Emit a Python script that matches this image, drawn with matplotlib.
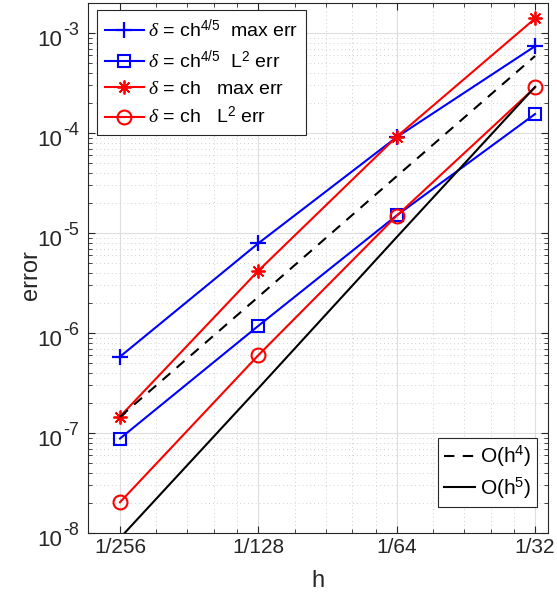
import numpy as np
import matplotlib.pyplot as plt
from matplotlib.ticker import FixedLocator, NullFormatter, LogLocator

plt.rcParams['font.family'] = ['Liberation Sans', 'DejaVu Sans']
plt.rcParams['mathtext.fontset'] = 'custom'
plt.rcParams['mathtext.rm'] = 'Liberation Sans'
plt.rcParams['mathtext.it'] = 'Liberation Serif:italic'

# mesh sizes
h = [1/256, 1/128, 1/64, 1/32]
h_labels = ['1/256', '1/128', '1/64', '1/32']

# errors
max_err_45 = [5.8e-7, 7.9e-6, 9.1e-5, 7.4e-4]
l2_err_45 = [8.8e-8, 1.18e-6, 1.5e-5, 1.55e-4]
max_err_1 = [1.46e-7, 4.2e-6, 9.2e-5, 1.4e-3]
l2_err_1 = [2.03e-8, 6.0e-7, 1.49e-5, 2.86e-4]

# reference slopes
ref_h4 = [1.45e-7, 2.3e-6, 3.7e-5, 5.9e-4]
ref_h5 = [8.9e-9, 2.8e-7, 9.1e-6, 2.9e-4]

# y decades for tick labels
y_exp = [-8, -7, -6, -5, -4, -3]

txt = '#262626'

fig = plt.figure(figsize=(5.57, 5.98), dpi=100)
ax = fig.add_axes([0.158, 0.1087, 0.826, 0.8863])

l1, = ax.loglog(h, max_err_45, '-+', color='b', lw=1.5, ms=11, mew=1.6)
l2, = ax.loglog(h, l2_err_45, '-s', color='b', lw=1.5, ms=8, mew=1.5, mfc='none')
l3, = ax.loglog(h, max_err_1, '-', marker=(8, 2, 0), color='r', lw=1.5, ms=10, mew=1.3)
l4, = ax.loglog(h, l2_err_1, '-o', color='r', lw=1.5, ms=10, mew=1.5, mfc='none')
r4, = ax.loglog(h, ref_h4, '--', color='k', lw=1.5, dashes=(5, 4))
r5, = ax.loglog(h, ref_h5, '-', color='k', lw=1.5)

ax.set_xlim(2**-8.231, 2**-4.906)
ax.set_ylim(1e-8, 2e-3)

ax.xaxis.set_major_locator(FixedLocator(h))
ax.set_xticklabels(h_labels)
minor_x = [m * x for x in h[:-1] for m in (1.2, 1.4, 1.6, 1.8)]
ax.xaxis.set_minor_locator(FixedLocator(minor_x))
ax.xaxis.set_minor_formatter(NullFormatter())
ax.yaxis.set_major_locator(FixedLocator([10.0**e for e in y_exp]))
ax.yaxis.set_minor_locator(LogLocator(base=10, subs=np.arange(2, 10), numticks=20))
ax.yaxis.set_minor_formatter(NullFormatter())
ax.set_yticklabels([])

# MATLAB-style 10^n labels with a large exponent
for e in y_exp:
    ax.annotate('10', xy=(0, 10.0**e), xycoords=('axes fraction', 'data'),
                xytext=(-18.7, -9.4), textcoords='offset points',
                ha='right', va='baseline', fontsize=16, color=txt,
                annotation_clip=False)
    ax.annotate('-%d' % -e, xy=(0, 10.0**e), xycoords=('axes fraction', 'data'),
                xytext=(-18.0, -1.4), textcoords='offset points',
                ha='left', va='baseline', fontsize=13, color=txt,
                annotation_clip=False)

ax.tick_params(which='both', direction='in', top=True, right=True, labelsize=15,
               color=txt, labelcolor=txt)
ax.tick_params(which='major', length=5, width=0.8)
ax.tick_params(which='minor', length=3, width=0.6)
ax.grid(True, which='major', color='#dedede', lw=0.8)
ax.grid(True, which='minor', color='#d0d0d0', lw=0.7, linestyle=(0, (1, 3)))
for s in ax.spines.values():
    s.set_color(txt)
    s.set_linewidth(0.8)

ax.set_xlabel('h', fontsize=17, color=txt)
ax.set_ylabel('error', fontsize=17, color=txt)
ax.xaxis.set_label_coords(0.5, -0.07)
ax.yaxis.set_label_coords(-0.1, 0.487)

leg1 = ax.legend([l1, l2, l3, l4],
                 [r'$\delta$ = ch$^{\mathrm{4/5}}$  max err',
                  r'$\delta$ = ch$^{\mathrm{4/5}}$  L$^{\mathrm{2}}$ err',
                  r'$\delta$ = ch   max err',
                  r'$\delta$ = ch   L$^{\mathrm{2}}$ err'],
                 loc='upper left', bbox_to_anchor=(0.0196, 0.987), borderaxespad=0,
                 fontsize=14, fancybox=False, framealpha=1,
                 edgecolor=txt, handlelength=2.0, handletextpad=0.2,
                 borderpad=0.4, labelspacing=0.42)
leg1.get_frame().set_linewidth(0.8)
ax.add_artist(leg1)

leg2 = ax.legend([r4, r5], [r'O(h$^{\mathrm{4}}$)', r'O(h$^{\mathrm{5}}$)'],
                 loc='lower right', bbox_to_anchor=(0.976, 0.049), borderaxespad=0,
                 fontsize=15, fancybox=False, framealpha=1,
                 edgecolor=txt, handlelength=1.5, handletextpad=0.2,
                 borderpad=0.3, labelspacing=0.3)
leg2.get_frame().set_linewidth(0.8)

fig.savefig('out.png', dpi=100)
